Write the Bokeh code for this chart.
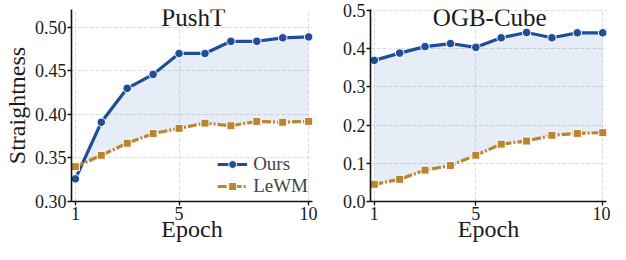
from bokeh.plotting import figure
from bokeh.layouts import row
from bokeh.models import Label, FixedTicker, Legend, LegendItem, ColumnDataSource
from bokeh.embed import file_html
from bokeh.resources import INLINE

epochs = [1, 2, 3, 4, 5, 6, 7, 8, 9, 10]
pusht_ours = [0.326, 0.391, 0.430, 0.446, 0.470, 0.470, 0.484, 0.484, 0.488, 0.489]
pusht_lewm = [0.340, 0.353, 0.367, 0.378, 0.384, 0.390, 0.387, 0.392, 0.391, 0.392]
cube_ours = [0.369, 0.388, 0.405, 0.413, 0.403, 0.428, 0.442, 0.428, 0.441, 0.441]
cube_lewm = [0.045, 0.058, 0.082, 0.094, 0.121, 0.150, 0.158, 0.173, 0.178, 0.180]
x_ticks = [1, 5, 10]
pusht_yticks = [0.30, 0.35, 0.40, 0.45, 0.50]
cube_yticks = [0.0, 0.1, 0.2, 0.3, 0.4, 0.5]

BLUE = "#1f4e98"
GOLD = "#bb8431"
FONT = "Liberation Serif"


def make(title, ours, lewm, yr, yticks, fmt, width, bl, br, ylabel, legend):
    p = figure(width=width, height=244, output_backend="svg", toolbar_location=None,
               x_range=(0.85, 10.15), y_range=yr,
               min_border_left=bl, min_border_right=br, min_border_top=9, min_border_bottom=4)
    p.outline_line_color = None
    src = ColumnDataSource(dict(x=epochs, o=ours, l=lewm))
    p.varea(x="x", y1="o", y2="l", source=src, fill_color="#3a6cc0", fill_alpha=0.12)
    lo = p.line("x", "o", source=src, line_color=BLUE, line_width=3.2)
    so = p.scatter("x", "o", source=src, marker="circle", size=8.5, fill_color=BLUE,
                   line_color="white", line_width=1)
    ll = p.line("x", "l", source=src, line_color=GOLD, line_width=3.2, line_dash="9 2 2 2")
    sl = p.scatter("x", "l", source=src, marker="square", size=8, fill_color=GOLD,
                   line_color="white", line_width=1)
    for ax in (p.xaxis[0], p.yaxis[0]):
        ax.major_label_text_font = FONT
        ax.major_label_text_font_size = "18px"
        ax.major_label_text_color = "#1a1a1a"
        ax.axis_label_text_font = FONT
        ax.axis_label_text_font_size = "24px"
        ax.axis_label_text_font_style = "normal"
        ax.axis_label_text_color = "#1a1a1a"
        ax.axis_line_width = 1.6
        ax.axis_line_color = "#111111"
        ax.major_tick_line_color = "#111111"
        ax.major_tick_line_width = 1.3
        ax.major_tick_out = 4
        ax.major_tick_in = 0
        ax.minor_tick_line_color = None
        ax.major_label_standoff = 1
    p.xaxis.axis_label_standoff = -7
    p.yaxis.axis_label_standoff = 2
    p.xaxis.ticker = FixedTicker(ticks=x_ticks)
    p.yaxis.ticker = FixedTicker(ticks=yticks)
    p.yaxis.major_label_overrides = {t: fmt.format(t) for t in yticks}
    p.xaxis.axis_label = "Epoch"
    if ylabel:
        p.yaxis.axis_label = ylabel
    for g in (p.xgrid[0], p.ygrid[0]):
        g.grid_line_color = "#dcdcdc"
        g.grid_line_dash = "4 2"
        g.grid_line_width = 1
    p.xgrid.ticker = FixedTicker(ticks=x_ticks)
    p.ygrid.ticker = FixedTicker(ticks=yticks)
    p.add_layout(Label(x=5.55, y=yr[1], text=title, text_font=FONT, text_font_size="25px",
                       text_align="center", text_baseline="top", y_offset=6, text_color="#1a1a1a"))
    if legend:
        leg = Legend(items=[LegendItem(label="Ours", renderers=[lo, so]),
                            LegendItem(label="LeWM", renderers=[ll, sl])],
                     location="bottom_right", label_text_font=FONT, label_text_font_size="19px",
                     background_fill_alpha=0, border_line_color=None, glyph_width=30,
                     label_standoff=6, spacing=0, padding=4, margin=4, label_height=20,
                     glyph_height=20)
        p.add_layout(leg)
    return p


p1 = make("PushT", pusht_ours, pusht_lewm, (0.30, 0.5205), pusht_yticks, "{:.2f}",
          320, 71, 8, "Straightness", True)
p2 = make("OGB-Cube", cube_ours, cube_lewm, (0.0, 0.502), cube_yticks, "{:.1f}",
          290, 50, 4, None, False)
p = row(p1, p2)
open("out.html", "w").write(file_html(p, INLINE))
